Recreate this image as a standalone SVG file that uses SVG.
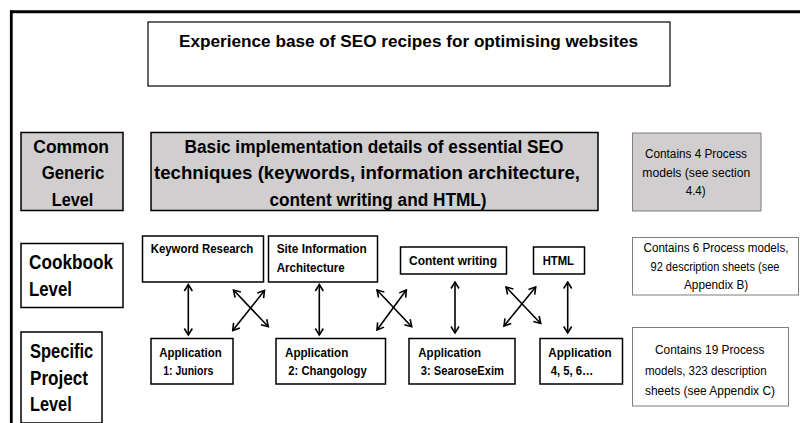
<svg xmlns="http://www.w3.org/2000/svg" width="800" height="423" viewBox="0 0 800 423">
<style>
text{font-family:"Liberation Sans",Arial,sans-serif;fill:#000}
.b{font-weight:bold}
.box{fill:#fff;stroke:#000;stroke-width:1.5}
.gray{fill:#d0cece;stroke:#000;stroke-width:1.5}
.note{fill:#fff;stroke:#7f7f7f;stroke-width:1}
.notegray{fill:#d0cece;stroke:#7f7f7f;stroke-width:1}
.c{stroke:#000;stroke-width:1.6;fill:none;marker-start:url(#ah);marker-end:url(#ah)}
</style>
<defs>
<marker id="ah" viewBox="0 0 10 10" refX="8.5" refY="5" markerWidth="10" markerHeight="10" markerUnits="userSpaceOnUse" orient="auto-start-reverse">
<path d="M2,1 L8.5,5 L2,9" fill="none" stroke="#000" stroke-width="1.6"/>
</marker>
</defs>
<rect width="800" height="423" fill="#fff"/>
<g id="frame">
<line x1="10" y1="11.8" x2="800" y2="11.8" stroke="#000" stroke-width="3"/>
<line x1="11.3" y1="10.5" x2="11.3" y2="423" stroke="#000" stroke-width="2.8"/>
</g>
<g id="title">
<rect x="148" y="22" width="522" height="64" fill="#fff" stroke="#000" stroke-width="1.2"/>
<text class="b" x="179" y="46.5" font-size="17" textLength="459" lengthAdjust="spacingAndGlyphs">Experience base of SEO recipes for optimising websites</text>
</g>
<g id="common-level">
<rect class="gray" x="21" y="132.5" width="102" height="78"/>
<text class="b" x="33.3" y="152.5" font-size="18" textLength="75.7" lengthAdjust="spacingAndGlyphs">Common</text>
<text class="b" x="41.7" y="179" font-size="18" textLength="62.6" lengthAdjust="spacingAndGlyphs">Generic</text>
<text class="b" x="51.7" y="205.5" font-size="18" textLength="41.6" lengthAdjust="spacingAndGlyphs">Level</text>
</g>
<g id="basic">
<rect class="gray" x="151" y="132.5" width="447" height="78"/>
<text class="b" x="184.5" y="152.5" font-size="18" textLength="379" lengthAdjust="spacingAndGlyphs">Basic implementation details of essential SEO</text>
<text class="b" x="154" y="179" font-size="18" textLength="426" lengthAdjust="spacingAndGlyphs">techniques (keywords, information architecture,</text>
<text class="b" x="269.5" y="205.5" font-size="18" textLength="217" lengthAdjust="spacingAndGlyphs">content writing and HTML)</text>
</g>
<g id="note-common">
<rect class="notegray" x="632.5" y="133" width="128.5" height="78"/>
<text x="645" y="157.5" font-size="12.5" textLength="102" lengthAdjust="spacingAndGlyphs">Contains 4 Process</text>
<text x="642.3" y="176.5" font-size="12.5" textLength="108" lengthAdjust="spacingAndGlyphs">models (see section</text>
<text x="685.7" y="195" font-size="12.5" textLength="20" lengthAdjust="spacingAndGlyphs">4.4)</text>
</g>
<g id="cookbook-level">
<rect class="box" x="21" y="243.5" width="102" height="64"/>
<text class="b" x="29" y="268.5" font-size="20" textLength="84" lengthAdjust="spacingAndGlyphs">Cookbook</text>
<text class="b" x="29" y="296" font-size="20" textLength="43" lengthAdjust="spacingAndGlyphs">Level</text>
</g>
<g id="keyword">
<rect class="box" x="142.5" y="236" width="121" height="46"/>
<text class="b" x="150.7" y="253.3" font-size="12" textLength="102.6" lengthAdjust="spacingAndGlyphs">Keyword Research</text>
</g>
<g id="site-info">
<rect class="box" x="268.5" y="236" width="109" height="46"/>
<text class="b" x="276.7" y="253.3" font-size="12" textLength="90" lengthAdjust="spacingAndGlyphs">Site Information</text>
<text class="b" x="276.7" y="271.5" font-size="12" textLength="68" lengthAdjust="spacingAndGlyphs">Architecture</text>
</g>
<g id="content">
<rect class="box" x="400.5" y="247" width="106" height="27"/>
<text class="b" x="409" y="265" font-size="12" textLength="88" lengthAdjust="spacingAndGlyphs">Content writing</text>
</g>
<g id="html">
<rect class="box" x="533.5" y="247" width="51" height="27"/>
<text class="b" x="542.7" y="265" font-size="12" textLength="31.3" lengthAdjust="spacingAndGlyphs">HTML</text>
</g>
<g id="note-cookbook">
<rect class="note" x="632.5" y="237.5" width="166" height="57.5"/>
<text x="643.5" y="252.3" font-size="12" textLength="145" lengthAdjust="spacingAndGlyphs">Contains 6 Process models,</text>
<text x="650.5" y="270.8" font-size="12" textLength="129" lengthAdjust="spacingAndGlyphs">92 description sheets (see</text>
<text x="684" y="289" font-size="12.5" textLength="64.3" lengthAdjust="spacingAndGlyphs">Appendix B)</text>
</g>
<g id="specific-level">
<rect class="box" x="21" y="332" width="81" height="91"/>
<text class="b" x="30" y="358.3" font-size="20" textLength="63.3" lengthAdjust="spacingAndGlyphs">Specific</text>
<text class="b" x="30" y="385" font-size="20" textLength="58" lengthAdjust="spacingAndGlyphs">Project</text>
<text class="b" x="30" y="410.5" font-size="20" textLength="41.7" lengthAdjust="spacingAndGlyphs">Level</text>
</g>
<g id="app1">
<rect class="box" x="151" y="338.5" width="82" height="45.5"/>
<text class="b" x="159.3" y="356.7" font-size="12" textLength="62.4" lengthAdjust="spacingAndGlyphs">Application</text>
<text class="b" x="163.3" y="375" font-size="12" textLength="50" lengthAdjust="spacingAndGlyphs">1: Juniors</text>
</g>
<g id="app2">
<rect class="box" x="276" y="338.5" width="109.5" height="45.5"/>
<text class="b" x="285" y="356.7" font-size="12" textLength="63.3" lengthAdjust="spacingAndGlyphs">Application</text>
<text class="b" x="288.3" y="375" font-size="12" textLength="78.4" lengthAdjust="spacingAndGlyphs">2: Changology</text>
</g>
<g id="app3">
<rect class="box" x="409" y="338.5" width="106" height="45.5"/>
<text class="b" x="418.3" y="356.7" font-size="12" textLength="62.7" lengthAdjust="spacingAndGlyphs">Application</text>
<text class="b" x="420.7" y="375" font-size="12" textLength="83.3" lengthAdjust="spacingAndGlyphs">3: SearoseExim</text>
</g>
<g id="app4">
<rect class="box" x="540" y="338.5" width="82.5" height="45.5"/>
<text class="b" x="548.3" y="356.7" font-size="12" textLength="63.4" lengthAdjust="spacingAndGlyphs">Application</text>
<text class="b" x="550.7" y="375" font-size="12" textLength="42.6" lengthAdjust="spacingAndGlyphs">4, 5, 6…</text>
</g>
<g id="note-specific">
<rect class="note" x="632.5" y="327.5" width="156" height="78.5"/>
<text x="655" y="354.3" font-size="13" textLength="109.3" lengthAdjust="spacingAndGlyphs">Contains 19 Process</text>
<text x="645" y="374.5" font-size="13" textLength="121.7" lengthAdjust="spacingAndGlyphs">models, 323 description</text>
<text x="645" y="395" font-size="13" textLength="130" lengthAdjust="spacingAndGlyphs">sheets (see Appendix C)</text>
</g>
<g id="connectors">
<line class="c" x1="188.3" y1="284.5" x2="188.3" y2="335"/>
<line class="c" x1="319.3" y1="284.5" x2="319.3" y2="335"/>
<line class="c" x1="455" y1="282" x2="455" y2="333"/>
<line class="c" x1="567.7" y1="282" x2="567.7" y2="333"/>
<line class="c" x1="233.5" y1="290" x2="268.3" y2="326.7"/>
<line class="c" x1="264.5" y1="290.5" x2="232.7" y2="330.5"/>
<line class="c" x1="377" y1="290" x2="411.7" y2="326.7"/>
<line class="c" x1="406.3" y1="290" x2="377" y2="330"/>
<line class="c" x1="506" y1="287" x2="540.7" y2="323.5"/>
<line class="c" x1="535.7" y1="287" x2="504" y2="326"/>
</g>
</svg>
